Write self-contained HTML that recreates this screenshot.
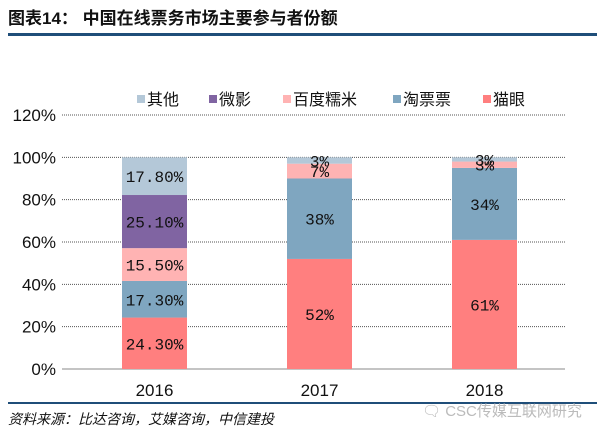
<!DOCTYPE html>
<html><head><meta charset="utf-8"><style>
body{margin:0;background:#fff;width:604px;height:438px;overflow:hidden;font-family:"Liberation Sans","Noto Sans CJK SC",sans-serif}
</style></head><body>
<svg width="604" height="438" xmlns="http://www.w3.org/2000/svg">
<text x="8" y="24" font-size="17" font-weight="bold" font-family="Liberation Sans, Noto Sans CJK SC, sans-serif" fill="#111">图表14：  中国在线票务市场主要参与者份额</text>
<rect x="8" y="33" width="589" height="3" fill="#1f4e79"/>
<g id="grid"></g><g id="bars"></g><g id="legend"></g>
<rect x="8" y="402" width="589" height="2" fill="#1f4e79"/>
<text x="8" y="424" font-size="14" font-style="italic" fill="#111" font-family="Liberation Sans, Noto Sans CJK SC, sans-serif">资料来源：比达咨询，艾媒咨询，中信建投</text>
<text x="422" y="416" font-size="15" fill="#bbb">🗨 CSC传媒互联网研究</text>
</svg>
<script>
const categories=["2016","2017","2018"];
const seriesNames=["猫眼","淘票票","百度糯米","微影","其他"];
const maoyan=[24.3,52,61];
const taopiao=[17.3,38,34];
const baidu=[15.5,7,3];
const weiying=[25.1,0,0];
const other=[17.8,3,2];
const labelsMaoyan=["24.30%","52%","61%"];
const labelsTaopiao=["17.30%","38%","34%"];
const labelsBaidu=["15.50%","7%","3%"];
const labelsWeiying=["25.10%","",""];
const labelsOther=["17.80%","3%","3%"];
const ticks=[0,20,40,60,80,100,120];
const colors=["#ff7f7f","#7fa6c0","#ffb3b3","#8064a2","#b4c8d8"];
const NS="http://www.w3.org/2000/svg";
const y0=369,y1=115,gx0=62,gx1=565;
const bx0=72,bx1=567;
const Y=v=>y0-(v/120)*(y0-y1);
const step=(bx1-bx0)/categories.length;
const X=i=>bx0+step*(i+0.5);
const bw=65;
function mk(t,a,p){const e=document.createElementNS(NS,t);for(const k in a)e.setAttribute(k,a[k]);p.appendChild(e);return e;}
const grid=document.getElementById('grid');
ticks.forEach(t=>{
 if(t>0){const l=mk('line',{x1:gx0,x2:gx1,y1:Y(t),y2:Y(t),stroke:'#555','stroke-width':1,'stroke-dasharray':'1,1'},grid);
 
 }
 const tx=mk('text',{x:56,y:Y(t)+6,'text-anchor':'end','font-size':17,fill:'#111'},grid);tx.textContent=t+'%';
 
 
});
const ax=mk('line',{x1:gx0,x2:gx1,y1:y0,y2:y0,stroke:'#888'},grid);


const series=[maoyan,taopiao,baidu,weiying,other];
const labels=[labelsMaoyan,labelsTaopiao,labelsBaidu,labelsWeiying,labelsOther];
const bars=document.getElementById('bars');
categories.forEach((c,i)=>{
 let acc=0;
 series.forEach((s,k)=>{
  const v=s[i];
  if(v>0){
   const r=mk('rect',{x:X(i)-bw/2,y:Y(acc+v),width:bw,height:Y(acc)-Y(acc+v),fill:colors[k]},bars);
   
   
   if(labels[k][i]){const t=mk('text',{x:X(i),y:Y(acc+v/2)+6,'text-anchor':'middle','font-size':16,fill:'#111','font-family':'Liberation Mono, monospace'},bars);t.textContent=labels[k][i];
   
   }
  }
  acc+=v;
 });
 const xt=mk('text',{x:X(i),y:396,'text-anchor':'middle','font-size':17,fill:'#111'},bars);xt.textContent=c;
 
 
});
const lg=document.getElementById('legend');
const lx=[137,209,283,393,483];
const order=[4,3,2,1,0];
order.forEach((k,j)=>{
 const g=mk('g',{},lg);
 
 
 mk('rect',{x:lx[j],y:95,width:8,height:8,fill:colors[k]},g);
 const t=mk('text',{x:lx[j]+10,y:105,'font-size':16,fill:'#111'},g);t.textContent=seriesNames[k];
});
</script>
</body></html>
